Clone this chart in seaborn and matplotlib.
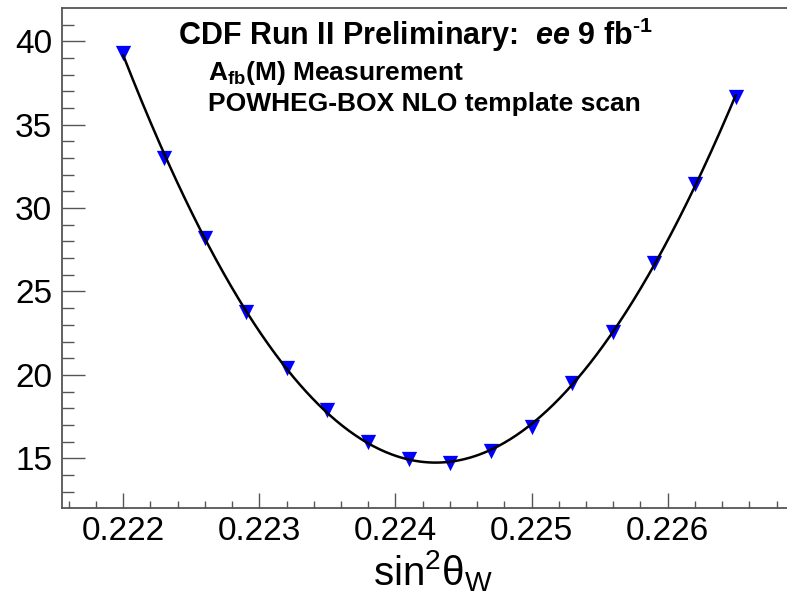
import numpy as np
import pandas as pd
import matplotlib
matplotlib.use("Agg")
import matplotlib.pyplot as plt
import seaborn as sns
from matplotlib.ticker import MultipleLocator, FormatStrFormatter

# Template scan: weak mixing angle vs. chi2 of the A_fb(M) comparison
sin2theta = [0.2220, 0.2223, 0.2226, 0.2229, 0.2232, 0.2235, 0.2238, 0.2241,
             0.2244, 0.2247, 0.2250, 0.2253, 0.2256, 0.2259, 0.2262, 0.2265]
chi2 = [39.31, 33.02, 28.20, 23.75, 20.42, 17.88, 15.99, 14.95,
        14.70, 15.44, 16.88, 19.51, 22.56, 26.69, 31.42, 36.65]
x_ticks = [0.222, 0.223, 0.224, 0.225, 0.226]
y_ticks = [15, 20, 25, 30, 35, 40]

sns.set_theme(style="white")
plt.rcParams["font.family"] = ["Liberation Sans", "DejaVu Sans"]
plt.rcParams["text.color"] = "black"
plt.rcParams["axes.labelcolor"] = "black"
plt.rcParams["mathtext.fontset"] = "custom"
plt.rcParams["mathtext.rm"] = "Liberation Sans:bold"
plt.rcParams["mathtext.bf"] = "Liberation Sans:bold"
plt.rcParams["mathtext.it"] = "Liberation Sans:italic:bold"
plt.rcParams["mathtext.sf"] = "Liberation Sans"

W, H = 787, 598
fig = plt.figure(figsize=(W / 100, H / 100), dpi=100)
fig.patch.set_facecolor("white")

# frame in pixels: left 62, right 797 (runs past the canvas), top 8, bottom 508
ax = fig.add_axes([62 / W, (H - 508) / H, (797 - 62) / W, 500 / H])
ax.set_facecolor("white")

scan = pd.DataFrame({"sin2theta": sin2theta, "chi2": chi2})

# polynomial fit through the scan points
coef = np.polyfit(scan["sin2theta"], scan["chi2"], 4)
grid = np.linspace(min(sin2theta), max(sin2theta), 400)
fit = pd.DataFrame({"sin2theta": grid, "chi2": np.polyval(coef, grid)})

sns.scatterplot(data=scan, x="sin2theta", y="chi2", marker="v", s=11 ** 2,
                color="#0000ff", linewidth=0, ax=ax, zorder=3)
sns.lineplot(data=fit, x="sin2theta", y="chi2", color="black", linewidth=1.8,
             ax=ax, zorder=4, sort=False)

ax.set_xlim(0.22155, 0.22695)
ax.set_ylim(12.02, 41.99)

frame_col = "#555555"
for side in ["left", "bottom", "top", "right"]:
    ax.spines[side].set_color(frame_col)
    ax.spines[side].set_linewidth(1.3)

ax.xaxis.set_major_locator(plt.FixedLocator(x_ticks))
ax.xaxis.set_minor_locator(MultipleLocator(0.0002))
ax.xaxis.set_major_formatter(FormatStrFormatter("%.3f"))
ax.yaxis.set_major_locator(plt.FixedLocator(y_ticks))
ax.yaxis.set_minor_locator(MultipleLocator(1))
ax.yaxis.set_major_formatter(FormatStrFormatter("%d"))

ax.tick_params(axis="both", which="both", direction="in", color=frame_col,
               width=1.0, labelcolor="black", labelsize=24,
               top=False, right=False, bottom=True, left=True)
ax.tick_params(axis="y", which="major", length=16.6, pad=7)
ax.tick_params(axis="y", which="minor", length=8.6)
ax.tick_params(axis="x", which="major", length=10.8, pad=6.0)
ax.tick_params(axis="x", which="minor", length=5.0)

ax.set_xlabel(r"$\mathsf{sin}^{\mathsf{2}}\mathsf{\theta}_{\mathsf{W}}$",
              fontsize=29, color="black")
ax.xaxis.set_label_coords((433 - 62) / 735, (508 - 548) / 500)
ax.set_ylabel("")

fig.text(178 / W, 1 - 45 / H,
         "CDF Run II Preliminary:  $\\mathit{ee}$ 9 fb$^{\\mathrm{\u2010}\\mathrm{1}}$",
         fontsize=22, fontweight="bold", va="baseline", ha="left")
fig.text(208 / W, 1 - 80 / H, r"A$_{\mathrm{fb}}$(M) Measurement",
         fontsize=19, fontweight="bold", va="baseline", ha="left")
fig.text(208 / W, 1 - 111 / H, "POWHEG-BOX NLO template scan",
         fontsize=19, fontweight="bold", va="baseline", ha="left")

fig.savefig("out.png", dpi=100, facecolor="white")
